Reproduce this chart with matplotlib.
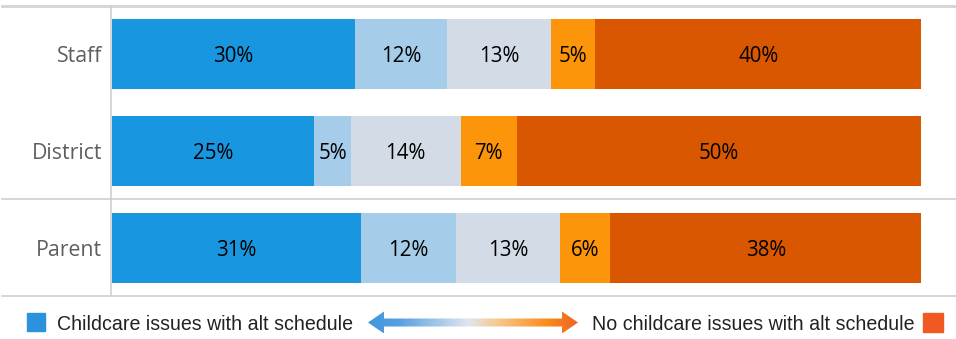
import numpy as np
import matplotlib
matplotlib.use("Agg")
import matplotlib.pyplot as plt
from matplotlib.lines import Line2D
from matplotlib.patches import Polygon, Rectangle

categories = ["Staff", "District", "Parent"]
segments = ["Childcare issues (strong)", "Childcare issues (some)", "Neutral",
            "No childcare issues (some)", "No childcare issues (strong)"]
values = {
    "Staff":    [30.0, 11.4, 12.9, 5.4, 40.3],
    "District": [25.0, 4.5, 13.6, 6.9, 50.0],
    "Parent":   [30.8, 11.7, 12.9, 6.2, 38.4],
}
labels = {
    "Staff":    ["30%", "12%", "13%", "5%", "40%"],
    "District": ["25%", "5%", "14%", "7%", "50%"],
    "Parent":   ["31%", "12%", "13%", "6%", "38%"],
}
colors = ["#1996e0", "#a5cce9", "#d3dce6", "#fc9509", "#d95700"]
legend_left = "Childcare issues with alt schedule"
legend_right = "No childcare issues with alt schedule"

W, H = 956, 339
fig = plt.figure(figsize=(W / 100, H / 100), dpi=100)

def fx(px):
    return px / W

def fy(py):
    return 1 - py / H

ax = fig.add_axes([fx(112), fy(296), fx(956) - fx(112), fy(6) - fy(296)])
ax.set_xlim(0, 104.3)
ax.set_ylim(2.5, -0.5)
ax.axis("off")

dy = 0.025
for i, cat in enumerate(categories):
    left = 0
    for j, v in enumerate(values[cat]):
        ax.barh(i, v, left=left, height=0.724, color=colors[j], edgecolor="none")
        ax.text(left + v / 2, i + dy, labels[cat][j], ha="center", va="center",
                fontsize=14.8, color="black", family=["Open Sans", "DejaVu Sans"])
        left += v
    ax.text(-1.2, i + dy, cat, ha="right", va="center", fontsize=15.3,
            color="#5e5e5e", family=["Open Sans", "DejaVu Sans"])

# frame lines
fig.add_artist(Line2D([fx(2), 1], [fy(5.5), fy(5.5)], color="#d4d4d4", lw=2))
fig.add_artist(Line2D([fx(2), 1], [fy(199), fy(199)], color="#cfcfcf", lw=1.2))
fig.add_artist(Line2D([fx(2), 1], [fy(296), fy(296)], color="#cfcfcf", lw=1.2))
fig.add_artist(Line2D([fx(111), fx(111)], [fy(6), fy(296)], color="#cfcfcf", lw=1.2))

# legend
lax = fig.add_axes([0, 0, 1, fy(300)])
lax.set_xlim(0, W)
lax.set_ylim(H, 300)
lax.axis("off")
lax.add_patch(Rectangle((27, 313), 18, 18, color="#2a93dc"))
lax.text(57, 324, legend_left, ha="left", va="center", fontsize=14.1,
         color="#222222", family=["Liberation Sans", "DejaVu Sans"])
lax.add_patch(Rectangle((923, 313), 20, 19, color="#f05a22"))
lax.text(915, 324, legend_right, ha="right", va="center", fontsize=14.1,
         color="#222222", family=["Liberation Sans", "DejaVu Sans"])

# gradient double arrow
x0, x1, yc = 368, 578, 322.5
hl, hw, sw = 16, 11, 4
pts = [(x0, yc), (x0 + hl, yc - hw), (x0 + hl, yc - sw), (x1 - hl, yc - sw),
       (x1 - hl, yc - hw), (x1, yc), (x1 - hl, yc + hw), (x1 - hl, yc + sw),
       (x0 + hl, yc + sw), (x0 + hl, yc + hw)]
poly = Polygon(pts, closed=True, facecolor="none", edgecolor="none")
lax.add_patch(poly)
stops = np.array([0.0, 0.15, 0.48, 0.62, 0.85, 1.0])
cols = np.array([[62, 150, 222], [90, 160, 225], [225, 230, 238],
                 [248, 200, 140], [250, 140, 30], [238, 100, 35]]) / 255
t = np.linspace(0, 1, 256)
grad = np.stack([np.interp(t, stops, cols[:, k]) for k in range(3)], axis=-1)
grad = grad[np.newaxis, :, :]
im = lax.imshow(grad, extent=[x0, x1, yc + hw, yc - hw], aspect="auto",
                interpolation="bilinear", zorder=2)
im.set_clip_path(poly)
lax.set_xlim(0, W)
lax.set_ylim(H, 300)

fig.savefig("out.png", dpi=100)
